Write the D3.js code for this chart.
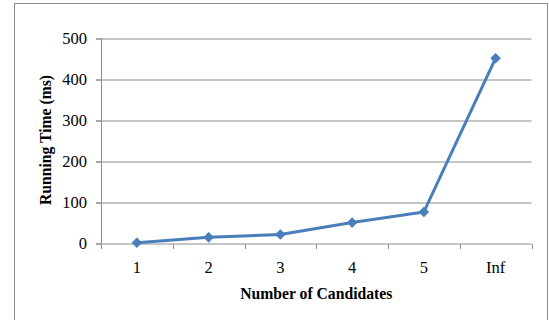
<!DOCTYPE html>
<html>
<head>
<meta charset="utf-8">
<script src="https://cdn.jsdelivr.net/npm/d3@7"></script>
<style>
  html, body { margin: 0; padding: 0; background: #fff; }
  svg { display: block; }
</style>
</head>
<body>
<svg id="chart" width="549" height="320"></svg>
<script>
// Running time per candidate-count setting
const categories = ["1", "2", "3", "4", "5", "Inf"];
const runningTimeMs = [2, 15, 22, 51, 77, 452];
const yTicks = [0, 100, 200, 300, 400, 500];

const svg = d3.select("#chart");
const W = 549, H = 320;
const margin = { left: 101, right: 17.5, top: 38.5, bottom: 76.5 };
const plotW = W - margin.left - margin.right;
const plotH = H - margin.top - margin.bottom;
const serif = "'Liberation Serif', 'Times New Roman', serif";

// outer frame
svg.append("rect")
  .attr("x", 14.5).attr("y", 3.5)
  .attr("width", 533).attr("height", 320)
  .attr("fill", "#fff")
  .attr("stroke", "#8c8c8c").attr("stroke-width", 1);

const g = svg.append("g").attr("transform", `translate(${margin.left},${margin.top})`);

const x = d3.scaleBand().domain(categories).range([0, plotW]).padding(0);
const y = d3.scaleLinear().domain([0, 500]).range([plotH, 0]);

// horizontal gridlines
g.append("g")
  .selectAll("line")
  .data(yTicks.filter(d => d > 0))
  .join("line")
  .attr("x1", -5).attr("x2", plotW)
  .attr("y1", d => Math.round(y(d)) + 0.5).attr("y2", d => Math.round(y(d)) + 0.5)
  .attr("stroke", "#8c8c8c").attr("stroke-width", 1);

// y axis
const yAxis = g.append("g")
  .call(d3.axisLeft(y).tickValues(yTicks).tickSize(5).tickPadding(9));
yAxis.select(".domain").attr("stroke", "#8c8c8c").attr("d", `M0.5,${plotH}V0`);
yAxis.selectAll(".tick line").attr("stroke", "#8c8c8c");
yAxis.selectAll(".tick text")
  .attr("font-family", serif)
  .attr("font-size", 16.5).attr("fill", "#000");

// x axis with ticks at category boundaries
const xAxisG = g.append("g").attr("transform", `translate(0,${Math.round(plotH) + 0.5})`);
xAxisG.append("line")
  .attr("x1", -5).attr("x2", plotW).attr("y1", 0).attr("y2", 0)
  .attr("stroke", "#8c8c8c");
const bounds = categories.map(c => x(c)).concat([plotW]);
xAxisG.selectAll("line.bt")
  .data(bounds)
  .join("line").attr("class", "bt")
  .attr("x1", d => Math.round(d) + 0.5).attr("x2", d => Math.round(d) + 0.5)
  .attr("y1", 0).attr("y2", 5)
  .attr("stroke", "#8c8c8c");
xAxisG.selectAll("text")
  .data(categories)
  .join("text")
  .attr("x", d => x(d) + x.bandwidth() / 2)
  .attr("y", 29)
  .attr("text-anchor", "middle")
  .attr("font-family", serif)
  .attr("font-size", 16.5).attr("fill", "#000")
  .text(d => d);

// series line
const pts = categories.map((c, i) => ({ c, v: runningTimeMs[i] }));
const line = d3.line()
  .x(d => x(d.c) + x.bandwidth() / 2)
  .y(d => y(d.v));
g.append("path")
  .datum(pts)
  .attr("d", line)
  .attr("fill", "none")
  .attr("stroke", "#4a7ebb")
  .attr("stroke-width", 3)
  .attr("stroke-linejoin", "round");

// diamond markers
const diamond = d3.symbol().type(d3.symbolSquare).size(42);
g.selectAll("path.marker")
  .data(pts)
  .join("path").attr("class", "marker")
  .attr("d", diamond)
  .attr("transform", d => `translate(${x(d.c) + x.bandwidth() / 2},${y(d.v)}) rotate(45)`)
  .attr("fill", "#4a7ebb")
  .attr("stroke", "#4a7ebb").attr("stroke-width", 1);

// axis titles
svg.append("text")
  .attr("x", margin.left + plotW / 2)
  .attr("y", 299)
  .attr("text-anchor", "middle")
  .attr("font-family", serif)
  .attr("font-weight", "bold").attr("font-size", 15.7).attr("fill", "#000")
  .text("Number of Candidates");

svg.append("text")
  .attr("transform", `translate(51,${margin.top + plotH / 2 - 1}) rotate(-90)`)
  .attr("text-anchor", "middle")
  .attr("font-family", serif)
  .attr("font-weight", "bold").attr("font-size", 15.7).attr("fill", "#000")
  .text("Running Time (ms)");
</script>
</body>
</html>
